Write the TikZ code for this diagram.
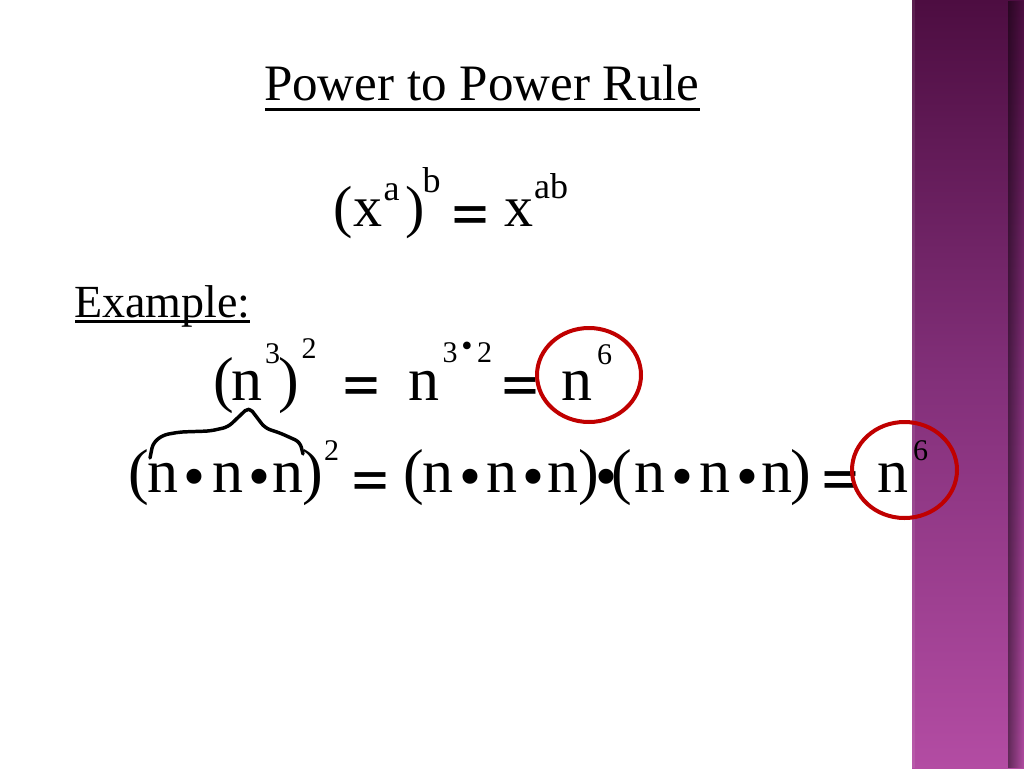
\documentclass[tikz,border=0pt]{standalone}
\usepackage{graphicx}
\usepackage{fontspec}
\setmainfont{Liberation Serif}
\newfontfamily\eqfont{Liberation Sans}[BoldFont={Liberation Sans Bold}]
\usetikzlibrary{fadings}
\newcommand\fsz[1]{\fontsize{#1}{#1}\selectfont}
\newcommand\wideq{\scalebox{1.4}[1]{=}}
\definecolor{bartop}{HTML}{4D0D41}
\definecolor{barmid}{HTML}{83307A}
\definecolor{barbot}{HTML}{B34CA3}
\definecolor{ringred}{HTML}{C00000}
\begin{document}
\begin{tikzpicture}[x=0.75pt,y=-0.75pt,
  every node/.style={inner sep=0pt,outer sep=0pt},
  ttl/.style={anchor=base west,font=\fsz{38.3pt}},
  exm/.style={anchor=base west,font=\fsz{34.5pt}},
  bigA/.style={anchor=base,font=\fsz{43.5pt}},
  supA/.style={anchor=base,font=\fsz{27pt}},
  big/.style={anchor=base,font=\fsz{46.5pt}},
  supB/.style={anchor=base,font=\fsz{22.5pt}},
  eqs/.style={anchor=base,font=\eqfont\bfseries\fsz{33pt}},
  dotB/.style={anchor=base,font=\fsz{47pt}},
  dotS/.style={anchor=base,font=\fsz{24pt}},
  ring/.style={draw=ringred,line width=3pt},
  uline/.style={line width=1.9pt},
  brace/.style={line width=2.6pt,rounded corners=4pt,line cap=round,line join=round}]
\useasboundingbox (0,0) rectangle (1024,768);
\fill[white] (0,0) rectangle (1024,768);
% side bar
\shade[top color=bartop,bottom color=barbot,middle color=barmid] (912,0) rectangle (1024,768);
\fill[black,opacity=0.45,path fading=east] (1008,0) rectangle (1024,768);
\fill[white,opacity=0.08] (912,0) rectangle (915,768);
% title
\node[ttl] (title) at (264,100) {Power to Power Rule};
\draw[uline] (265,109.5) -- (700,109.5);
% rule
\node[bigA] (r1) at (343.5,226) {(};
\node[bigA] (r2) at (367.5,226) {x};
\node[supA] (r3) at (391.5,200) {a};
\node[bigA] (r4) at (415,226) {)};
\node[supA] (r5) at (431.5,192) {b};
\node[eqs] (r6) at (470,229) {\wideq};
\node[bigA] (r7) at (519,226) {x};
\node[supA] (r8) at (551,198) {ab};
% example
\node[exm] (ex) at (74,317) {Example:};
\draw[uline] (75,321.5) -- (250,321.5);
% row 2
\node[big] (a1) at (223.5,400) {(};
\node[big] (a2) at (247,400) {n};
\node[supB] (a3) at (272.5,363) {3};
\node[big] (a4) at (288.5,400) {)};
\node[supB] (a5) at (309,358) {2};
\node[eqs] (a6) at (361.5,400) {\wideq};
\node[big] (a7) at (424,400) {n};
\node[supB] (a8) at (450,362) {3};
\node[dotS] (a9) at (467,356) {•};
\node[supB] (a10) at (484.5,362) {2};
\node[eqs] (a11) at (520,400) {\wideq};
\node[big] (a12) at (577,400) {n};
\node[supB] (a13) at (604.5,364) {6};
\draw[ring] (589,375) ellipse [x radius=52,y radius=47];
% brace
\draw[brace] (150,458) -- (153,443) -- (163,435) -- (180,432) -- (210,431) -- (228,427) -- (249,407) -- (265,428) -- (280,433) -- (300,442) -- (303,454);
% row 3
\node[big] (b1) at (138.5,492) {(};
\node[big] (b2) at (163,492) {n};
\node[dotB] (b3) at (194,497) {•};
\node[big] (b4) at (228,492) {n};
\node[dotB] (b5) at (259,497) {•};
\node[big] (b6) at (288,492) {n};
\node[big] (b7) at (313,492) {)};
\node[supB] (b8) at (331.5,460) {2};
\node[eqs] (b9) at (370.5,495) {\wideq};
\node[big] (c1) at (413.5,492) {(};
\node[big] (c2) at (438,492) {n};
\node[dotB] (c3) at (470,497) {•};
\node[big] (c4) at (502,492) {n};
\node[dotB] (c5) at (533,497) {•};
\node[big] (c6) at (563,492) {n};
\node[big] (c7) at (588.5,492) {)};
\node[dotB] (c8) at (606,497) {•};
\node[big] (c9) at (621.5,492) {(};
\node[big] (c10) at (650,492) {n};
\node[dotB] (c11) at (682.5,497) {•};
\node[big] (c12) at (715,492) {n};
\node[dotB] (c13) at (747,497) {•};
\node[big] (c14) at (777,492) {n};
\node[big] (c15) at (800.5,492) {)};
\node[eqs] (c16) at (840,494) {\wideq};
\node[big] (c17) at (892.5,492) {n};
\node[supB] (c18) at (920.5,460) {6};
\draw[ring] (904.5,470) ellipse [x radius=52.5,y radius=48];
\end{tikzpicture}
\end{document}
